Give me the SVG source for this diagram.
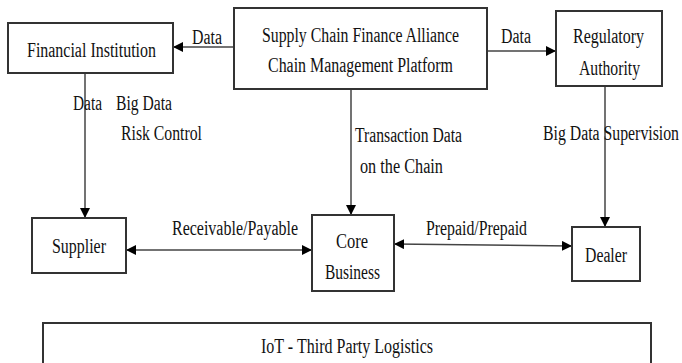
<svg xmlns="http://www.w3.org/2000/svg" width="682" height="363" viewBox="0 0 682 363">
  <style>
    .box { fill: #fff; stroke: #333; stroke-width: 2; }
    .link { fill: none; stroke: #444; stroke-width: 1.5; }
    text { font-family: "Liberation Serif", "Times New Roman", serif; font-size: 20px; fill: #111; }
  </style>
  <defs>
    <marker id="arrow" viewBox="0 0 10 10" refX="10" refY="5" markerWidth="10" markerHeight="10" markerUnits="userSpaceOnUse" orient="auto">
      <path d="M0,0 L10,5 L0,10 Z" fill="#000"/>
    </marker>
    <marker id="arrowStart" viewBox="0 0 10 10" refX="0" refY="5" markerWidth="10" markerHeight="10" markerUnits="userSpaceOnUse" orient="auto">
      <path d="M10,0 L0,5 L10,10 Z" fill="#000"/>
    </marker>
  </defs>
  <rect width="682" height="363" fill="#fff"/>

  <g id="connectors">
    <line class="link" x1="85" y1="73" x2="85" y2="218" marker-end="url(#arrow)"/>
    <line class="link" x1="234" y1="47" x2="173" y2="47" marker-end="url(#arrow)"/>
    <line class="link" x1="487" y1="51" x2="556" y2="51" marker-end="url(#arrow)"/>
    <line class="link" x1="351" y1="89" x2="351" y2="215" marker-end="url(#arrow)"/>
    <line class="link" x1="605" y1="86" x2="605" y2="227" marker-end="url(#arrow)"/>
    <line class="link" x1="126" y1="250" x2="312" y2="250" marker-start="url(#arrowStart)" marker-end="url(#arrow)"/>
    <line class="link" x1="394" y1="244" x2="572" y2="246" marker-start="url(#arrowStart)" marker-end="url(#arrow)"/>

    <text x="192" y="44" textLength="30" lengthAdjust="spacingAndGlyphs">Data</text>
    <text x="501" y="43" textLength="30" lengthAdjust="spacingAndGlyphs">Data</text>
    <text x="73" y="110" textLength="29" lengthAdjust="spacingAndGlyphs">Data</text>
    <text x="116" y="110" textLength="56" lengthAdjust="spacingAndGlyphs">Big Data</text>
    <text x="121" y="140" textLength="81" lengthAdjust="spacingAndGlyphs">Risk Control</text>
    <text x="355" y="142" textLength="107" lengthAdjust="spacingAndGlyphs">Transaction Data</text>
    <text x="360" y="173" textLength="83" lengthAdjust="spacingAndGlyphs">on the Chain</text>
    <text x="543" y="140" textLength="136" lengthAdjust="spacingAndGlyphs">Big Data Supervision</text>
    <text x="172" y="235" textLength="126" lengthAdjust="spacingAndGlyphs">Receivable/Payable</text>
    <text x="426" y="235" textLength="101" lengthAdjust="spacingAndGlyphs">Prepaid/Prepaid</text>
  </g>

  <g id="financial-institution">
    <rect class="box" x="8" y="23" width="165" height="50"/>
    <text x="27" y="57" textLength="129" lengthAdjust="spacingAndGlyphs">Financial Institution</text>
  </g>

  <g id="platform">
    <rect class="box" x="234" y="8" width="253" height="81"/>
    <text x="262" y="42" textLength="197" lengthAdjust="spacingAndGlyphs">Supply Chain Finance Alliance</text>
    <text x="268" y="72" textLength="185" lengthAdjust="spacingAndGlyphs">Chain Management Platform</text>
  </g>

  <g id="regulatory-authority">
    <rect class="box" x="556" y="11" width="106" height="75"/>
    <text x="573" y="43" textLength="71" lengthAdjust="spacingAndGlyphs">Regulatory</text>
    <text x="579" y="75" textLength="61" lengthAdjust="spacingAndGlyphs">Authority</text>
  </g>

  <g id="supplier">
    <rect class="box" x="32" y="218" width="94" height="55"/>
    <text x="52" y="253" textLength="54" lengthAdjust="spacingAndGlyphs">Supplier</text>
  </g>

  <g id="core-business">
    <rect class="box" x="312" y="215" width="82" height="76"/>
    <text x="336" y="248" textLength="32" lengthAdjust="spacingAndGlyphs">Core</text>
    <text x="325" y="279" textLength="55" lengthAdjust="spacingAndGlyphs">Business</text>
  </g>

  <g id="dealer">
    <rect class="box" x="572" y="227" width="68" height="54"/>
    <text x="585" y="262" textLength="42" lengthAdjust="spacingAndGlyphs">Dealer</text>
  </g>

  <g id="iot-logistics">
    <rect class="box" x="43" y="323" width="608" height="60"/>
    <text x="261" y="353" textLength="172" lengthAdjust="spacingAndGlyphs">IoT - Third Party Logistics</text>
  </g>
</svg>
